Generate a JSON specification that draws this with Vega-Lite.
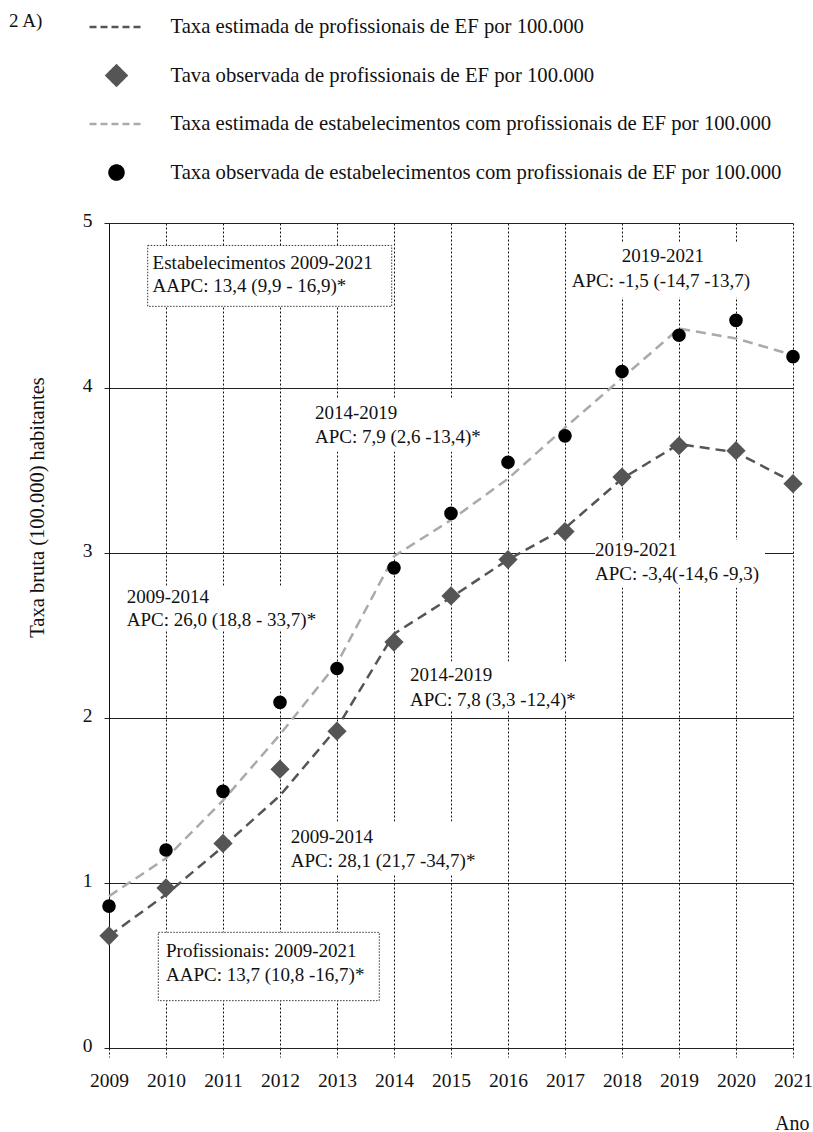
{
  "$schema": "https://vega.github.io/schema/vega-lite/v6.json",
  "width": 684,
  "height": 825,
  "autosize": {"type": "none"},
  "padding": {"left": 109, "top": 223, "right": 20, "bottom": 84},
  "background": "white",
  "config": {
    "font": "Liberation Serif",
    "view": {"stroke": null},
    "axis": {"labelFont": "Liberation Serif", "titleFont": "Liberation Serif", "labelColor": "#111", "titleColor": "#111", "titleFontWeight": "normal"}
  },
  "datasets": {
    "series": [
      {"ano": 2009, "serie": "Taxa estimada de profissionais de EF por 100.000", "valor": 0.68},
      {"ano": 2010, "serie": "Taxa estimada de profissionais de EF por 100.000", "valor": 0.93},
      {"ano": 2011, "serie": "Taxa estimada de profissionais de EF por 100.000", "valor": 1.22},
      {"ano": 2012, "serie": "Taxa estimada de profissionais de EF por 100.000", "valor": 1.53},
      {"ano": 2013, "serie": "Taxa estimada de profissionais de EF por 100.000", "valor": 1.94},
      {"ano": 2014, "serie": "Taxa estimada de profissionais de EF por 100.000", "valor": 2.51},
      {"ano": 2015, "serie": "Taxa estimada de profissionais de EF por 100.000", "valor": 2.73},
      {"ano": 2016, "serie": "Taxa estimada de profissionais de EF por 100.000", "valor": 2.96},
      {"ano": 2017, "serie": "Taxa estimada de profissionais de EF por 100.000", "valor": 3.15},
      {"ano": 2018, "serie": "Taxa estimada de profissionais de EF por 100.000", "valor": 3.45},
      {"ano": 2019, "serie": "Taxa estimada de profissionais de EF por 100.000", "valor": 3.66},
      {"ano": 2020, "serie": "Taxa estimada de profissionais de EF por 100.000", "valor": 3.61},
      {"ano": 2021, "serie": "Taxa estimada de profissionais de EF por 100.000", "valor": 3.43},
      {"ano": 2009, "serie": "Tava observada de profissionais de EF por 100.000", "valor": 0.68},
      {"ano": 2010, "serie": "Tava observada de profissionais de EF por 100.000", "valor": 0.97},
      {"ano": 2011, "serie": "Tava observada de profissionais de EF por 100.000", "valor": 1.24},
      {"ano": 2012, "serie": "Tava observada de profissionais de EF por 100.000", "valor": 1.69},
      {"ano": 2013, "serie": "Tava observada de profissionais de EF por 100.000", "valor": 1.92},
      {"ano": 2014, "serie": "Tava observada de profissionais de EF por 100.000", "valor": 2.46},
      {"ano": 2015, "serie": "Tava observada de profissionais de EF por 100.000", "valor": 2.74},
      {"ano": 2016, "serie": "Tava observada de profissionais de EF por 100.000", "valor": 2.96},
      {"ano": 2017, "serie": "Tava observada de profissionais de EF por 100.000", "valor": 3.13},
      {"ano": 2018, "serie": "Tava observada de profissionais de EF por 100.000", "valor": 3.46},
      {"ano": 2019, "serie": "Tava observada de profissionais de EF por 100.000", "valor": 3.65},
      {"ano": 2020, "serie": "Tava observada de profissionais de EF por 100.000", "valor": 3.62},
      {"ano": 2021, "serie": "Tava observada de profissionais de EF por 100.000", "valor": 3.42},
      {"ano": 2009, "serie": "Taxa estimada de estabelecimentos com profissionais de EF por 100.000", "valor": 0.92},
      {"ano": 2010, "serie": "Taxa estimada de estabelecimentos com profissionais de EF por 100.000", "valor": 1.15},
      {"ano": 2011, "serie": "Taxa estimada de estabelecimentos com profissionais de EF por 100.000", "valor": 1.5},
      {"ano": 2012, "serie": "Taxa estimada de estabelecimentos com profissionais de EF por 100.000", "valor": 1.9},
      {"ano": 2013, "serie": "Taxa estimada de estabelecimentos com profissionais de EF por 100.000", "valor": 2.33},
      {"ano": 2014, "serie": "Taxa estimada de estabelecimentos com profissionais de EF por 100.000", "valor": 2.98},
      {"ano": 2015, "serie": "Taxa estimada de estabelecimentos com profissionais de EF por 100.000", "valor": 3.2},
      {"ano": 2016, "serie": "Taxa estimada de estabelecimentos com profissionais de EF por 100.000", "valor": 3.45},
      {"ano": 2017, "serie": "Taxa estimada de estabelecimentos com profissionais de EF por 100.000", "valor": 3.76},
      {"ano": 2018, "serie": "Taxa estimada de estabelecimentos com profissionais de EF por 100.000", "valor": 4.06},
      {"ano": 2019, "serie": "Taxa estimada de estabelecimentos com profissionais de EF por 100.000", "valor": 4.36},
      {"ano": 2020, "serie": "Taxa estimada de estabelecimentos com profissionais de EF por 100.000", "valor": 4.3},
      {"ano": 2021, "serie": "Taxa estimada de estabelecimentos com profissionais de EF por 100.000", "valor": 4.2},
      {"ano": 2009, "serie": "Taxa observada de estabelecimentos com profissionais de EF por 100.000", "valor": 0.86},
      {"ano": 2010, "serie": "Taxa observada de estabelecimentos com profissionais de EF por 100.000", "valor": 1.2},
      {"ano": 2011, "serie": "Taxa observada de estabelecimentos com profissionais de EF por 100.000", "valor": 1.555},
      {"ano": 2012, "serie": "Taxa observada de estabelecimentos com profissionais de EF por 100.000", "valor": 2.095},
      {"ano": 2013, "serie": "Taxa observada de estabelecimentos com profissionais de EF por 100.000", "valor": 2.3},
      {"ano": 2014, "serie": "Taxa observada de estabelecimentos com profissionais de EF por 100.000", "valor": 2.91},
      {"ano": 2015, "serie": "Taxa observada de estabelecimentos com profissionais de EF por 100.000", "valor": 3.24},
      {"ano": 2016, "serie": "Taxa observada de estabelecimentos com profissionais de EF por 100.000", "valor": 3.55},
      {"ano": 2017, "serie": "Taxa observada de estabelecimentos com profissionais de EF por 100.000", "valor": 3.71},
      {"ano": 2018, "serie": "Taxa observada de estabelecimentos com profissionais de EF por 100.000", "valor": 4.1},
      {"ano": 2019, "serie": "Taxa observada de estabelecimentos com profissionais de EF por 100.000", "valor": 4.32},
      {"ano": 2020, "serie": "Taxa observada de estabelecimentos com profissionais de EF por 100.000", "valor": 4.41},
      {"ano": 2021, "serie": "Taxa observada de estabelecimentos com profissionais de EF por 100.000", "valor": 4.19}
    ],
    "notas": [
      {"texto": "Estabelecimentos 2009-2021", "ano": 2009.765, "valor": 4.758},
      {"texto": "AAPC: 13,4 (9,9 - 16,9)*", "ano": 2009.765, "valor": 4.616},
      {"texto": "2019-2021", "ano": 2017.995, "valor": 4.802},
      {"texto": "APC: -1,5 (-14,7 -13,7)", "ano": 2017.117, "valor": 4.65},
      {"texto": "2014-2019", "ano": 2012.614, "valor": 3.848},
      {"texto": "APC: 7,9 (2,6 -13,4)*", "ano": 2012.614, "valor": 3.703},
      {"texto": "2009-2014", "ano": 2009.311, "valor": 2.733},
      {"texto": "APC: 26,0 (18,8 - 33,7)*", "ano": 2009.311, "valor": 2.592},
      {"texto": "2019-2021", "ano": 2017.526, "valor": 3.02},
      {"texto": "APC: -3,4(-14,6 -9,3)", "ano": 2017.526, "valor": 2.875},
      {"texto": "2014-2019", "ano": 2014.281, "valor": 2.262},
      {"texto": "APC: 7,8 (3,3 -12,4)*", "ano": 2014.281, "valor": 2.111},
      {"texto": "2009-2014", "ano": 2012.188, "valor": 1.279},
      {"texto": "APC: 28,1 (21,7 -34,7)*", "ano": 2012.188, "valor": 1.131},
      {"texto": "Profissionais: 2009-2021", "ano": 2010.0, "valor": 0.585},
      {"texto": "AAPC: 13,7 (10,8 -16,7)*", "ano": 2010.0, "valor": 0.44}
    ],
    "caixas": [
      {"tipo": "caixa", "ano1": 2009.679, "ano2": 2013.96, "valor1": 4.864, "valor2": 4.495},
      {"tipo": "fundo", "ano1": 2017.07, "ano2": 2020.351, "valor1": 4.882, "valor2": 4.549},
      {"tipo": "fundo", "ano1": 2012.561, "ano2": 2015.579, "valor1": 3.94, "valor2": 3.613},
      {"tipo": "fundo", "ano1": 2009.228, "ano2": 2012.702, "valor1": 2.802, "valor2": 2.535},
      {"tipo": "fundo", "ano1": 2017.526, "ano2": 2020.509, "valor1": 3.081, "valor2": 2.79},
      {"tipo": "fundo", "ano1": 2014.193, "ano2": 2017.263, "valor1": 2.342, "valor2": 2.044},
      {"tipo": "fundo", "ano1": 2012.123, "ano2": 2015.474, "valor1": 1.372, "valor2": 1.051},
      {"tipo": "caixa", "ano1": 2009.865, "ano2": 2013.742, "valor1": 0.701, "valor2": 0.287}
    ]
  },
  "encoding": {
    "x": {
      "field": "ano", "type": "quantitative",
      "scale": {"domain": [2009, 2021], "nice": false, "zero": false},
      "axis": {
        "values": [2009, 2010, 2011, 2012, 2013, 2014, 2015, 2016, 2017, 2018, 2019, 2020, 2021],
        "format": "d", "labelFlush": false, "labelFontSize": 19.5, "labelPadding": 14,
        "grid": true, "gridColor": "#111", "gridDash": [2, 2], "gridWidth": 1,
        "ticks": true, "tickSize": 9, "tickColor": "#111", "tickDash": [2, 2], "tickWidth": 1,
        "domain": true, "domainColor": "#222", "domainWidth": 1,
        "title": "Ano", "titleFontSize": 20, "titleAnchor": "end", "titleAlign": "right",
        "titleX": 700, "titleY": 75, "titleBaseline": "middle"
      }
    },
    "y": {
      "field": "valor", "type": "quantitative",
      "scale": {"domain": [0, 5], "nice": false},
      "axis": {
        "values": [0, 1, 2, 3, 4, 5], "format": "d", "labelFontSize": 19.5, "labelPadding": 12, "labelOffset": -3,
        "grid": true, "gridColor": "#222", "gridWidth": 1,
        "ticks": true, "tickSize": 5, "tickColor": "#222",
        "domain": true, "domainColor": "#111", "domainWidth": 1,
        "title": "Taxa bruta (100.000) habitantes", "titleFontSize": 20.5,
        "titleX": -72, "titleY": 284, "titleBaseline": "middle", "titleAlign": "center"
      }
    }
  },
  "layer": [
    {
      "data": {"name": "caixas"},
      "transform": [{"filter": "datum.tipo === 'fundo'"}],
      "mark": {"type": "rect", "fill": "white", "strokeWidth": 0},
      "encoding": {
        "x": {"field": "ano1", "type": "quantitative"},
        "x2": {"field": "ano2"},
        "y": {"field": "valor1", "type": "quantitative"},
        "y2": {"field": "valor2"}
      }
    },
    {
      "data": {"name": "caixas"},
      "transform": [{"filter": "datum.tipo === 'caixa'"}],
      "mark": {"type": "rect", "fill": "white", "stroke": "#333", "strokeWidth": 1, "strokeDash": [1.5, 1.5]},
      "encoding": {
        "x": {"field": "ano1", "type": "quantitative"},
        "x2": {"field": "ano2"},
        "y": {"field": "valor1", "type": "quantitative"},
        "y2": {"field": "valor2"}
      }
    },
    {
      "data": {"name": "notas"},
      "mark": {"type": "text", "align": "left", "baseline": "middle", "fontSize": 19, "fill": "#111", "font": "Liberation Serif"},
      "encoding": {
        "text": {"field": "texto"}
      }
    },
    {
      "data": {"name": "series"},
      "transform": [{"filter": "indexof(datum.serie, 'estimada') >= 0"}],
      "mark": {"type": "line", "strokeWidth": 2.5, "strokeDash": [10, 6]},
      "encoding": {
        "color": {
          "field": "serie", "type": "nominal",
          "scale": {
            "domain": [
              "Taxa estimada de profissionais de EF por 100.000",
              "Tava observada de profissionais de EF por 100.000",
              "Taxa estimada de estabelecimentos com profissionais de EF por 100.000",
              "Taxa observada de estabelecimentos com profissionais de EF por 100.000"
            ],
            "range": ["#555555", "#555555", "#aaaaaa", "#000000"]
          },
          "legend": {
            "orient": "none", "legendX": -100, "legendY": -211, "padding": 0,
            "title": "2 A)", "titleOrient": "left", "titleAnchor": "start", "titleBaseline": "top",
            "titleFontSize": 19, "titleFontWeight": "normal", "titleFont": "Liberation Serif", "titleColor": "#111", "titlePadding": 44,
            "labelFontSize": 20.7, "labelFont": "Liberation Serif", "labelColor": "#111", "labelLimit": 0, "labelOffset": 25.5,
            "symbolSize": 2916, "symbolType": "stroke", "symbolStrokeWidth": 2.5, "symbolOffset": 0,
            "clipHeight": 30, "rowPadding": 18.5,
            "encode": {
              "symbols": {
                "update": {
                  "shape": {"signal": "datum.index === 1 ? 'diamond' : (datum.index === 3 ? 'circle' : 'stroke')"},
                  "size": {"signal": "datum.index === 1 ? 400 : (datum.index === 3 ? 196 : 2916)"},
                  "strokeDash": {"signal": "datum.index === 1 || datum.index === 3 ? [1, 0] : [7, 4]"},
                  "fill": {"signal": "datum.index === 1 ? '#555555' : (datum.index === 3 ? '#000000' : 'transparent')"},
                  "stroke": {"signal": "datum.index === 0 ? '#555555' : (datum.index === 2 ? '#aaaaaa' : 'transparent')"},
                  "strokeWidth": {"value": 2.5},
                  "opacity": {"value": 1}
                }
              }
            }
          }
        }
      }
    },
    {
      "data": {"name": "series"},
      "transform": [{"filter": "indexof(datum.serie, 'observada') >= 0"}],
      "mark": {"type": "point", "filled": true, "opacity": 1, "strokeWidth": 0},
      "encoding": {
        "color": {"field": "serie", "type": "nominal"},
        "shape": {
          "field": "serie", "type": "nominal",
          "scale": {
            "domain": ["Tava observada de profissionais de EF por 100.000", "Taxa observada de estabelecimentos com profissionais de EF por 100.000"],
            "range": ["diamond", "circle"]
          },
          "legend": null
        },
        "size": {
          "field": "serie", "type": "nominal",
          "scale": {
            "domain": ["Tava observada de profissionais de EF por 100.000", "Taxa observada de estabelecimentos com profissionais de EF por 100.000"],
            "range": [370, 185]
          },
          "legend": null
        }
      }
    }
  ]
}
